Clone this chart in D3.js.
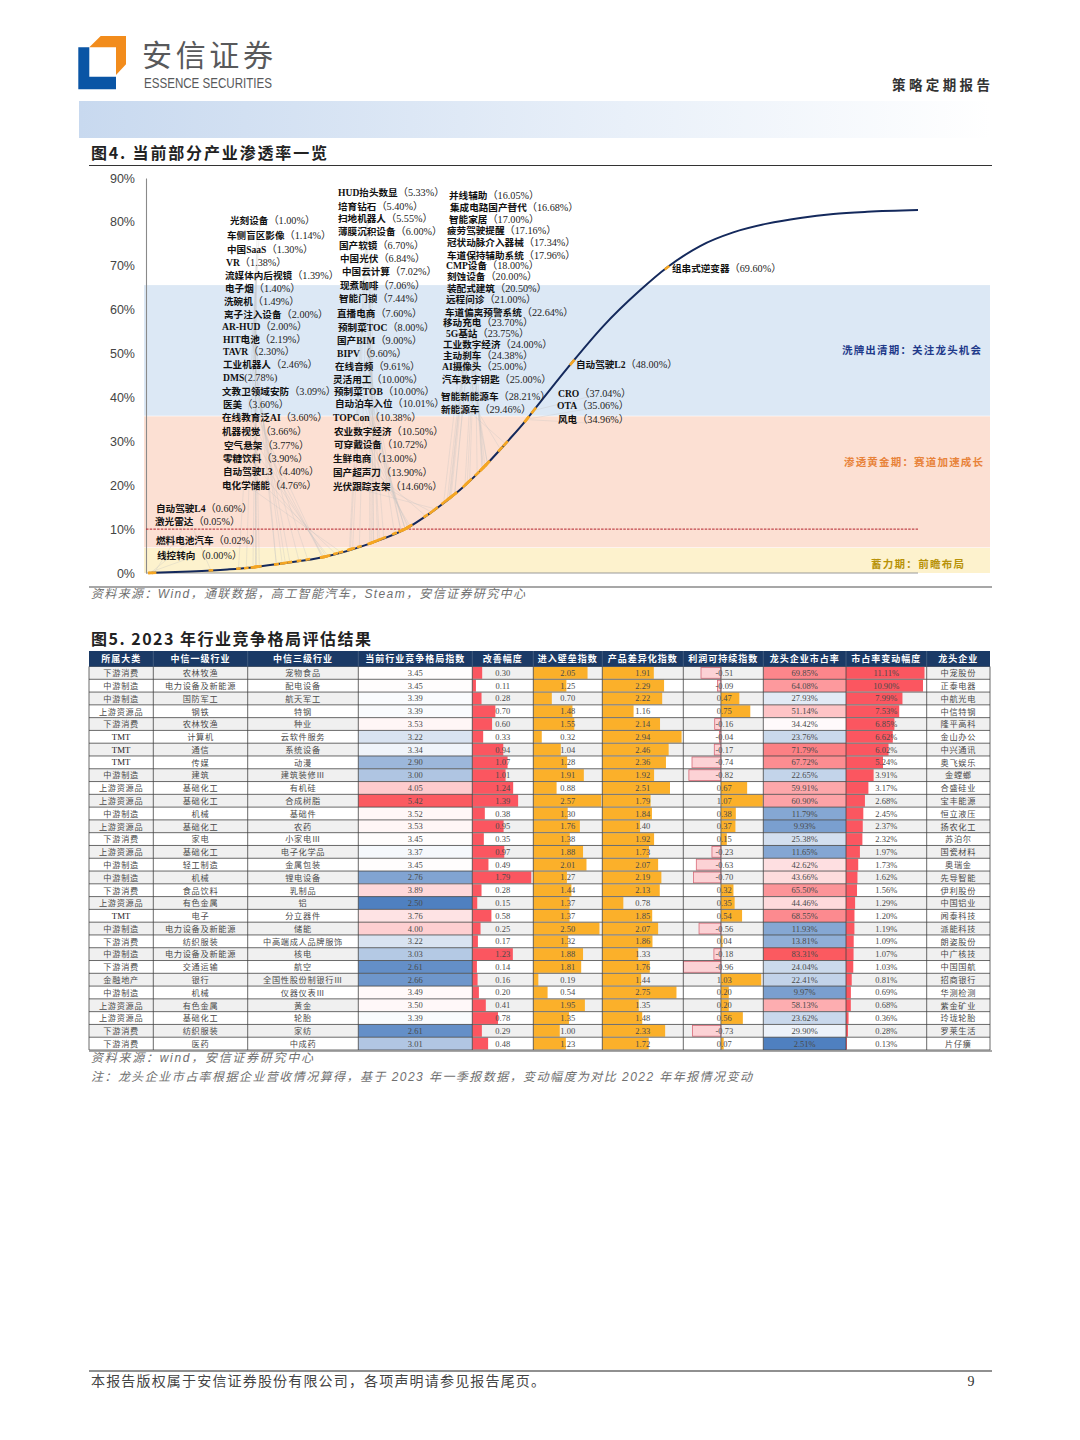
<!DOCTYPE html>
<html lang="zh"><head><meta charset="utf-8">
<script src="https://cdn.jsdelivr.net/npm/d3@7/dist/d3.min.js"></script>
<style>html,body{margin:0;padding:0;background:#fff}svg{display:block}</style>
</head><body><svg id="page" width="1080" height="1440" viewBox="0 0 1080 1440"></svg>
<script>
// ---------- Figure 4 data ----------
const yTicks = [0,10,20,30,40,50,60,70,80,90];
const curveStage = [0,5.5,10.3,13.2,17.1,23,28.8,33.4,36.6,40.5,43.5,46.6,49,49.9,55,59.1,63.9,67.4,71.7,76,80.4,84.7,89,93.4,100];
const curvePct = [0,0.35,0.8,1.2,2.1,3.7,6.7,10,13.6,18.9,23.9,29.8,34.6,36.6,47.8,56.2,64.4,69.6,74.5,77.6,79.6,80.9,81.8,82.3,82.7];
const bandLimits = [65.6,35.7,5.7,0];
const bandNames = ["洗牌出清期\uFF1A关注龙头机会","渗透黄金期\uFF1A赛道加速成长","蓄力期\uFF1A前瞻布局"];
const thresholdPct = 10;
const productNames = ["自动驾驶L4","激光雷达","燃料电池汽车","线控转向",
"光刻设备","车侧盲区影像","中国SaaS","VR","流媒体内后视镜","电子烟","洗碗机","离子注入设备","AR-HUD","HIT电池","TAVR","工业机器人","DMS","文教卫领域安防","医美","在线教育泛AI","机器视觉","空气悬架","零糖饮料","自动驾驶L3","电化学储能",
"HUD抬头数显","培育钻石","扫地机器人","薄膜沉积设备","国产软镜","中国光伏","中国云计算","现煮咖啡","智能门锁","直播电商","预制菜TOC","国产BIM","BIPV","在线音频","灵活用工","预制菜TOB","自动泊车入位","TOPCon","农业数字经济","可穿戴设备","生鲜电商","国产超声刀","光伏跟踪支架",
"并线辅助","集成电路国产替代","智能家居","疲劳驾驶提醒","冠状动脉介入器械","车道保持辅助系统","CMP设备","刻蚀设备","装配式建筑","远程问诊","车道偏离预警系统","移动充电","5G基站","工业数字经济","主动刹车","AI摄像头","汽车数字钥匙","智能新能源车","新能源车",
"CRO","OTA","风电","自动驾驶L2","组串式逆变器"];
const productPct = [0.60,0.05,0.02,0.00,
1.00,1.14,1.30,1.38,1.39,1.40,1.49,2.00,2.00,2.19,2.30,2.46,2.78,3.09,3.60,3.60,3.66,3.77,3.90,4.40,4.76,
5.33,5.40,5.55,6.00,6.70,6.84,7.02,7.06,7.44,7.60,8.00,9.00,9.60,9.61,10.00,10.00,10.01,10.38,10.50,10.72,13.00,13.90,14.60,
16.05,16.68,17.00,17.16,17.34,17.96,18.00,20.00,20.50,21.00,22.64,23.70,23.75,24.00,24.38,25.00,25.00,28.21,29.46,
37.04,35.06,34.96,48.00,69.60];
// label placement, kept apart from the values
const labelLeft = [156,155,156,157,
230,227,227,226,225,225,224,224,222,223,223,223,223,222,223,222,222,224,223,223,222,
338,338,338,338,339,340,342,340,339,337,338,337,337,335,333,334,335,333,334,334,333,333,333,
449,450,449,447,447,447,446,447,447,446,445,443,446,443,443,442,442,441,441,
558,557,558,576,672];
const labelMid = [508,521,540,555,
220,235,249,262,275,288,301,314,326,339,351,364,377,391,404,417,431,445,458,471,485,
192,206,218,231,245,258,271,285,298,313,327,340,353,366,379,391,403,417,431,444,458,472,486,
195,207,219,230,242,255,265,276,288,299,312,322,333,344,355,366,379,396,409,
393,405,419,364,268];

// ---------- Figure 5 data ----------
const headers = ["所属大类","中信一级行业","中信三级行业","当前行业竞争格局指数","改善幅度","进入壁垒指数","产品差异化指数","利润可持续指数","龙头企业市占率","市占率变动幅度","龙头企业"];
const sector = ["下游消费","中游制造","中游制造","上游资源品","下游消费","TMT","TMT","TMT","中游制造","上游资源品","上游资源品","中游制造","上游资源品","下游消费","上游资源品","中游制造","中游制造","下游消费","上游资源品","TMT","中游制造","下游消费","中游制造","下游消费","金融地产","中游制造","上游资源品","上游资源品","下游消费","下游消费"];
const industry1 = ["农林牧渔","电力设备及新能源","国防军工","钢铁","农林牧渔","计算机","通信","传媒","建筑","基础化工","基础化工","机械","基础化工","家电","基础化工","轻工制造","机械","食品饮料","有色金属","电子","电力设备及新能源","纺织服装","电力设备及新能源","交通运输","银行","机械","有色金属","基础化工","纺织服装","医药"];
const industry3 = ["宠物食品","配电设备","航天军工","特钢","种业","云软件服务","系统设备","动漫","建筑装修Ⅲ","有机硅","合成树脂","基础件","农药","小家电Ⅲ","电子化学品","金属包装","锂电设备","乳制品","铝","分立器件","储能","中高端成人品牌服饰","核电","航空","全国性股份制银行Ⅲ","仪器仪表Ⅲ","黄金","轮胎","家纺","中成药"];
const compIndex = [3.45,3.45,3.39,3.39,3.53,3.22,3.34,2.90,3.00,4.05,5.42,3.52,3.53,3.45,3.37,3.45,2.76,3.89,2.50,3.76,4.00,3.22,3.03,2.61,2.66,3.49,3.50,3.39,2.61,3.01];
const improvement = [0.30,0.11,0.28,0.70,0.60,0.33,0.94,1.07,1.01,1.24,1.39,0.38,0.95,0.35,0.97,0.49,1.79,0.28,0.15,0.58,0.25,0.17,1.23,0.14,0.16,0.20,0.41,0.78,0.29,0.48];
const barrier = [2.05,1.25,0.70,1.48,1.55,0.32,1.04,1.28,1.91,0.88,2.57,1.30,1.76,1.38,1.88,2.01,1.27,1.44,1.37,1.37,2.50,1.32,1.88,1.81,0.19,0.54,1.95,1.35,1.00,1.23];
const differentiation = [1.91,2.29,2.22,1.16,2.14,2.94,2.46,2.36,1.92,2.51,1.79,1.84,1.40,1.92,1.73,2.07,2.19,2.13,0.78,1.85,2.07,1.86,1.33,1.76,1.44,2.75,1.35,1.48,2.33,1.72];
const profit = [-0.51,-0.09,0.47,0.75,-0.16,-0.04,-0.17,-0.74,-0.82,0.67,1.07,0.38,0.37,0.15,-0.23,-0.63,-0.70,0.32,0.35,0.54,-0.56,0.04,-0.18,-0.96,1.03,0.20,0.20,0.56,-0.73,0.07];
const leaderShare = [69.85,64.08,27.93,51.14,34.42,23.76,71.79,67.72,22.65,59.91,60.90,11.79,9.93,25.38,11.65,42.62,43.66,65.50,44.46,68.55,11.93,13.81,83.31,24.04,22.41,9.97,58.13,23.62,29.90,2.51];
const shareChange = [11.11,10.90,7.99,7.53,6.85,6.62,6.02,5.24,3.91,3.17,2.68,2.45,2.37,2.32,1.97,1.73,1.62,1.56,1.29,1.20,1.19,1.09,1.07,1.03,0.81,0.69,0.68,0.36,0.28,0.13];
const leader = ["中宠股份","正泰电器","中航光电","中信特钢","隆平高科","金山办公","中兴通讯","奥飞娱乐","金螳螂","合盛硅业","宝丰能源","恒立液压","扬农化工","苏泊尔","国瓷材料","奥瑞金","先导智能","伊利股份","中国铝业","闻泰科技","派能科技","朗姿股份","中广核技","中国国航","招商银行","华测检测","紫金矿业","玲珑轮胎","罗莱生活","片仔癀"];

const SERIF = '"Liberation Serif","Noto Sans CJK SC",serif';
const SANS = '"Liberation Sans","Noto Sans CJK SC",sans-serif';
const CJK = '"Noto Sans CJK SC",sans-serif';
const svg = d3.select("#page");
function txt(g,x,y,s,o={}){
  const t=g.append("text").attr("x",x).attr("y",y).attr("dominant-baseline","central").text(s)
   .attr("font-family",o.family||SANS).attr("font-size",o.size||12).attr("fill",o.fill||"#333")
   .attr("font-weight",o.weight||"normal").attr("text-anchor",o.anchor||"start");
  if(o.italic)t.attr("font-style","italic");
  if(o.ls)t.attr("letter-spacing",o.ls);
  if(o.len)t.attr("textLength",o.len).attr("lengthAdjust",o.adjust||"spacing");
  return t;
}

// ---------- page furniture ----------
const defs=svg.append("defs");
const grad=defs.append("linearGradient").attr("id","headBand");
grad.append("stop").attr("offset","0").attr("stop-color","#c8d9ef");
grad.append("stop").attr("offset","0.6").attr("stop-color","#e9f0f9");
grad.append("stop").attr("offset","1").attr("stop-color","#ffffff");
const head=svg.append("g");
head.append("path").attr("d","M78.3 47.3H89.3V76.7H116V89.3H78.3Z").attr("fill","#0a55a5");
head.append("path").attr("d","M89.3 47.3L100.7 36H126V64.3L116 75V47.3Z").attr("fill","#f28c1c");
txt(head,142,52.5,"安信证券",{size:30,fill:"#58595b",family:CJK,len:131});
txt(head,144,82.5,"ESSENCE SECURITIES",{size:14,fill:"#58595b",family:'"Liberation Sans"',len:128,adjust:"spacingAndGlyphs"});
txt(head,892,84,"策略定期报告",{size:13.5,fill:"#333",weight:"bold",family:CJK,len:98});
head.append("rect").attr("x",79).attr("y",101).attr("width",912).attr("height",37).attr("fill","url(#headBand)");
txt(head,91,152,"图4. 当前部分产业渗透率一览",{size:16,fill:"#222",weight:"bold",family:CJK,len:236});
head.append("line").attr("x1",89).attr("x2",992).attr("y1",165.5).attr("y2",165.5).attr("stroke","#333").attr("stroke-width",1.2);
head.append("line").attr("x1",89).attr("x2",992).attr("y1",587).attr("y2",587).attr("stroke","#8a8a8a").attr("stroke-width",1.6);
txt(head,91,594,"资料来源\uFF1AWind\uFF0C通联数据\uFF0C高工智能汽车\uFF0CSteam\uFF0C安信证券研究中心",{size:12,fill:"#6f6f6f",italic:true,len:434});
txt(head,91,638,"图5. 2023 年行业竞争格局评估结果",{size:16,fill:"#222",weight:"bold",family:CJK,len:280});
txt(head,91,1058,"资料来源\uFF1Awind\uFF0C安信证券研究中心",{size:12,fill:"#6f6f6f",italic:true,len:222});
txt(head,91,1077,"注\uFF1A龙头企业市占率根据企业营收情况算得\uFF0C基于 2023 年一季报数据\uFF0C变动幅度为对比 2022 年年报情况变动",{size:12,fill:"#6f6f6f",italic:true,len:661});
head.append("line").attr("x1",89).attr("x2",992).attr("y1",1371).attr("y2",1371).attr("stroke","#222").attr("stroke-width",1.2);
txt(head,91,1380.5,"本报告版权属于安信证券股份有限公司\uFF0C各项声明请参见报告尾页。",{size:14,fill:"#444",len:454});
txt(head,971,1381,"9",{size:14,fill:"#333",anchor:"middle",family:SERIF});

// ---------- Figure 4 chart ----------
const x=d3.scaleLinear().domain([0,100]).range([148,918]);
const y=d3.scaleLinear().domain([0,90]).range([573,178]);
const stageOfPct=d3.scaleLinear().domain(curvePct).range(curveStage);
const pctOfStage=d3.scaleLinear().domain(curveStage).range(curvePct);
const chart=svg.append("g");
const bandFill=["#dce8f5","#fce0d3","#fdf2cd"], bandText=["#1f3a8a","#e8833a","#b8920a"];
const bandTextRight=[981,983,964], bandTextWidth=[139,139,93], bandTextMid=[349.5,461.5,563.5];
d3.range(3).forEach(i=>{
  chart.append("rect").attr("x",144).attr("width",846)
    .attr("y",y(bandLimits[i])).attr("height",y(bandLimits[i+1])-y(bandLimits[i])-(i<2?0.6:0))
    .attr("fill",bandFill[i]);
  txt(chart,bandTextRight[i]-bandTextWidth[i],bandTextMid[i],bandNames[i],{size:10.5,fill:bandText[i],weight:"bold",family:CJK,len:bandTextWidth[i]});
});
// leader lines
const leaders=chart.append("g").attr("stroke","#c4c4c4").attr("stroke-opacity",.45).attr("stroke-width",.7);
productPct.forEach((p,i)=>{
  if(i>=productPct.length-2) return;
  leaders.append("line").attr("x1",labelLeft[i]+30).attr("y1",labelMid[i]+4)
    .attr("x2",x(stageOfPct(p))).attr("y2",y(p));
});
// axis
const axis=d3.axisLeft(y).tickValues(yTicks).tickFormat(d=>d+"%").tickSize(0).tickPadding(11);
const ag=chart.append("g").attr("transform","translate(146,0)").call(axis);
ag.select(".domain").attr("stroke","#8a8a8a").attr("stroke-width",1.1);
ag.selectAll("text").attr("font-family",'"Liberation Sans"').attr("font-size",12.5).attr("fill","#444");
chart.append("line").attr("x1",146).attr("x2",918).attr("y1",y(0)).attr("y2",y(0)).attr("stroke","#9a9a9a").attr("stroke-width",1.2);
chart.append("line").attr("x1",146).attr("x2",918).attr("y1",y(thresholdPct)).attr("y2",y(thresholdPct))
  .attr("stroke","#b3202a").attr("stroke-width",1).attr("stroke-dasharray","2.5,1.2");
// curve
const line=d3.line().x(d=>x(d[0])).y(d=>y(d[1])).curve(d3.curveMonotoneX);
chart.append("path").attr("d",line(d3.zip(curveStage,curvePct))).attr("fill","none").attr("stroke","#14295c").attr("stroke-width",2);
chart.append("g").attr("stroke","#f5a623").attr("stroke-width",2.6).selectAll("line").data(productPct).join("line")
  .attr("x1",d=>x(Math.max(0,stageOfPct(d)-.3))).attr("y1",d=>y(pctOfStage(Math.max(0,stageOfPct(d)-.3))))
  .attr("x2",d=>x(stageOfPct(d)+.3)).attr("y2",d=>y(pctOfStage(stageOfPct(d)+.3)));
// labels
productNames.forEach((n,i)=>{
  const t=chart.append("text").attr("x",labelLeft[i]).attr("y",labelMid[i]).attr("dominant-baseline","central")
    .attr("font-family",SERIF).attr("font-size",9.6).attr("fill","#111");
  t.append("tspan").attr("font-weight","bold").text(n);
  const v=productPct[i].toFixed(2)+"%";
  t.append("tspan").attr("font-size",10.2).attr("fill","#222").text(n==="DMS"?"("+v+")":"\uFF08"+v+"\uFF09");
});

// ---------- Figure 5 table ----------
const colEdges=[89,153.3,247.7,358.3,472.3,533.3,602.3,683.3,763.3,846,926.7,990];
const rowY=d3.scaleBand().domain(d3.range(sector.length)).range([666.5,1050]);
const table=svg.append("g");
const rh=rowY.bandwidth();
const blueRedIndex=d3.scaleLinear().domain([2.5,3.42,5.42]).range(["#4f80c0","#ffffff","#fb5a60"]);
const blueRedShare=d3.scaleLinear().domain([2.51,33,83.31]).range(["#4f80c0","#ffffff","#fb5a60"]);
const wImprove=d3.scaleLinear().domain([0,1.79]).range([0,59]);
const wBarrier=d3.scaleLinear().domain([0,2.57]).range([0,68]);
const wDiff=d3.scaleLinear().domain([0,2.94]).range([0,79.3]);
const xProfit=d3.scaleLinear().domain([-0.96,1.07]).range([683.4,762.8]);
const wChange=d3.scaleLinear().domain([0,11.11]).range([0,78.5]);
const colTextFill="#4a4a4a";
sector.forEach((s,r)=>{
  const top=rowY(r), mid=top+rh/2;
  const cx=i=>(colEdges[i]+colEdges[i+1])/2;
  table.append("rect").attr("x",colEdges[0]).attr("y",top).attr("width",colEdges[11]-colEdges[0]).attr("height",rh).attr("fill",r%2===0?"#f0f0f0":"#ffffff");
  // heat cells
  table.append("rect").attr("x",colEdges[3]).attr("y",top).attr("width",colEdges[4]-colEdges[3]).attr("height",rh).attr("fill",blueRedIndex(compIndex[r]));
  table.append("rect").attr("x",colEdges[8]).attr("y",top).attr("width",colEdges[9]-colEdges[8]).attr("height",rh).attr("fill",blueRedShare(leaderShare[r]));
  // bars
  table.append("rect").attr("x",colEdges[4]).attr("y",top+.5).attr("width",wImprove(improvement[r])).attr("height",rh-1).attr("fill","#fb5660");
  table.append("rect").attr("x",colEdges[5]).attr("y",top+.5).attr("width",wBarrier(barrier[r])).attr("height",rh-1).attr("fill","#fbb02a");
  table.append("rect").attr("x",colEdges[6]).attr("y",top+.5).attr("width",wDiff(differentiation[r])).attr("height",rh-1).attr("fill","#fbb02a");
  const p=profit[r];
  if(p>=0) table.append("rect").attr("x",xProfit(0)).attr("y",top+.5).attr("width",xProfit(p)-xProfit(0)).attr("height",rh-1).attr("fill","#fbb02a");
  else table.append("rect").attr("x",xProfit(p)).attr("y",top+1).attr("width",xProfit(0)-xProfit(p)).attr("height",rh-2).attr("fill","#fcd2d5").attr("stroke","#d86a78").attr("stroke-width",.8);
  table.append("rect").attr("x",colEdges[9]).attr("y",top+.5).attr("width",wChange(shareChange[r])).attr("height",rh-1).attr("fill","#fb5660");
  // text
  const cjk={size:8.2,fill:colTextFill,anchor:"middle",family:CJK,ls:0.7};
  const num={size:8.5,fill:colTextFill,anchor:"middle",family:SERIF};
  const cm=mid-.7;
  txt(table,cx(0),s==="TMT"?mid:cm,s,s==="TMT"?{...num,fill:"#222",size:8.8}:cjk);
  txt(table,cx(1),cm,industry1[r],cjk);
  txt(table,cx(2),cm,industry3[r],cjk);
  txt(table,cx(3),mid,compIndex[r].toFixed(2),num);
  txt(table,cx(4),mid,improvement[r].toFixed(2),num);
  txt(table,cx(5),mid,barrier[r].toFixed(2),num);
  txt(table,cx(6),mid,differentiation[r].toFixed(2),num);
  txt(table,cx(7)+1,mid,p.toFixed(2),num);
  txt(table,cx(8),mid,leaderShare[r].toFixed(2)+"%",num);
  txt(table,cx(9),mid,shareChange[r].toFixed(2)+"%",num);
  txt(table,cx(10),cm,leader[r],cjk);
});
// grid
table.append("g").selectAll("line").data(d3.range(sector.length+1)).join("line")
  .attr("x1",colEdges[0]).attr("x2",colEdges[11]).attr("y1",d=>666.5+d*rh).attr("y2",d=>666.5+d*rh)
  .attr("stroke","#444").attr("stroke-width",.8);
table.append("g").selectAll("line").data(colEdges).join("line")
  .attr("x1",d=>d).attr("x2",d=>d).attr("y1",666.5).attr("y2",1050)
  .attr("stroke","#444").attr("stroke-width",.8);
table.append("line").attr("x1",xProfit(0)).attr("x2",xProfit(0)).attr("y1",666.5).attr("y2",1050).attr("stroke","#555").attr("stroke-width",.8);
table.append("line").attr("x1",89).attr("x2",992).attr("y1",1051).attr("y2",1051).attr("stroke","#8a8a8a").attr("stroke-width",1.4);
// header
table.append("rect").attr("x",colEdges[0]).attr("y",651).attr("width",colEdges[11]-colEdges[0]).attr("height",15.5).attr("fill","#1b3a66");
headers.forEach((h,i)=>{
  txt(table,(colEdges[i]+colEdges[i+1])/2,658.4,h,{size:9,fill:"#fff",weight:"bold",anchor:"middle",family:CJK,ls:1});
  if(i) table.append("line").attr("x1",colEdges[i]).attr("x2",colEdges[i]).attr("y1",651).attr("y2",666.5).attr("stroke","#5a7290").attr("stroke-width",.6);
});
</script></body></html>
